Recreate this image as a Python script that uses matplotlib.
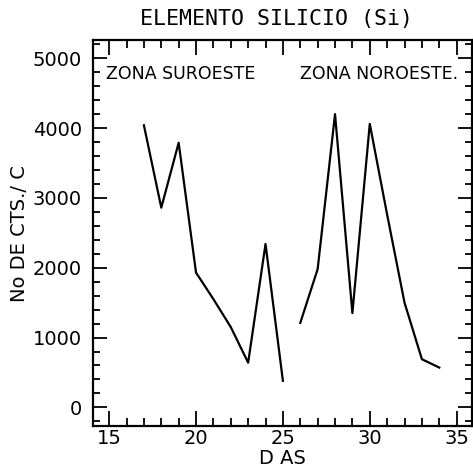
import matplotlib
matplotlib.use("Agg")
import matplotlib.pyplot as plt
from matplotlib.ticker import MultipleLocator

# daily Si counts, two sampling zones (gap between them)
days_so = [17, 18, 19, 20, 21, 22, 23, 24, 25]
cts_so = [4040, 2860, 3790, 1930, 1550, 1150, 640, 2340, 380]
days_no = [26, 27, 28, 29, 30, 31, 32, 33, 34]
cts_no = [1210, 1980, 4200, 1350, 4060, 2760, 1500, 690, 570]

x_ticks = [15, 20, 25, 30, 35]
y_ticks = [0, 1000, 2000, 3000, 4000, 5000]

plt.rcParams["font.family"] = "DejaVu Sans"

fig = plt.figure(figsize=(4.73, 4.72), dpi=100)
ax = fig.add_axes([0.197, 0.097, 0.800, 0.818])

ax.plot(days_so, cts_so, color="black", lw=1.6)
ax.plot(days_no, cts_no, color="black", lw=1.6)

ax.set_xlim(14.08, 35.86)
ax.set_ylim(-270, 5260)
ax.set_xticks(x_ticks)
ax.set_yticks(y_ticks)
ax.xaxis.set_minor_locator(MultipleLocator(1))
ax.yaxis.set_minor_locator(MultipleLocator(200))

ax.tick_params(which="both", direction="in", top=True, right=True,
               width=1.3, labelsize=14)
ax.tick_params(axis="x", which="major", length=11, pad=2)
ax.tick_params(axis="x", which="minor", length=6)
ax.tick_params(axis="y", which="major", length=10, pad=8)
ax.tick_params(axis="y", which="minor", length=5)
for s in ax.spines.values():
    s.set_linewidth(1.6)

ax.text(14.8, 4770, "ZONA SUROESTE", fontsize=12.5, va="center", ha="left")
ax.text(25.98, 4770, "ZONA NOROESTE.", fontsize=12.5, va="center", ha="left")

fig.text(0.585, 0.96, "ELEMENTO SILICIO (Si)", fontsize=15.5,
         family="DejaVu Sans Mono", ha="center", va="center")
ax.set_xlabel("D AS", fontsize=14, labelpad=1)
ax.set_ylabel("No DE CTS./ C", fontsize=14, labelpad=3)

fig.savefig("out.png", dpi=100)
